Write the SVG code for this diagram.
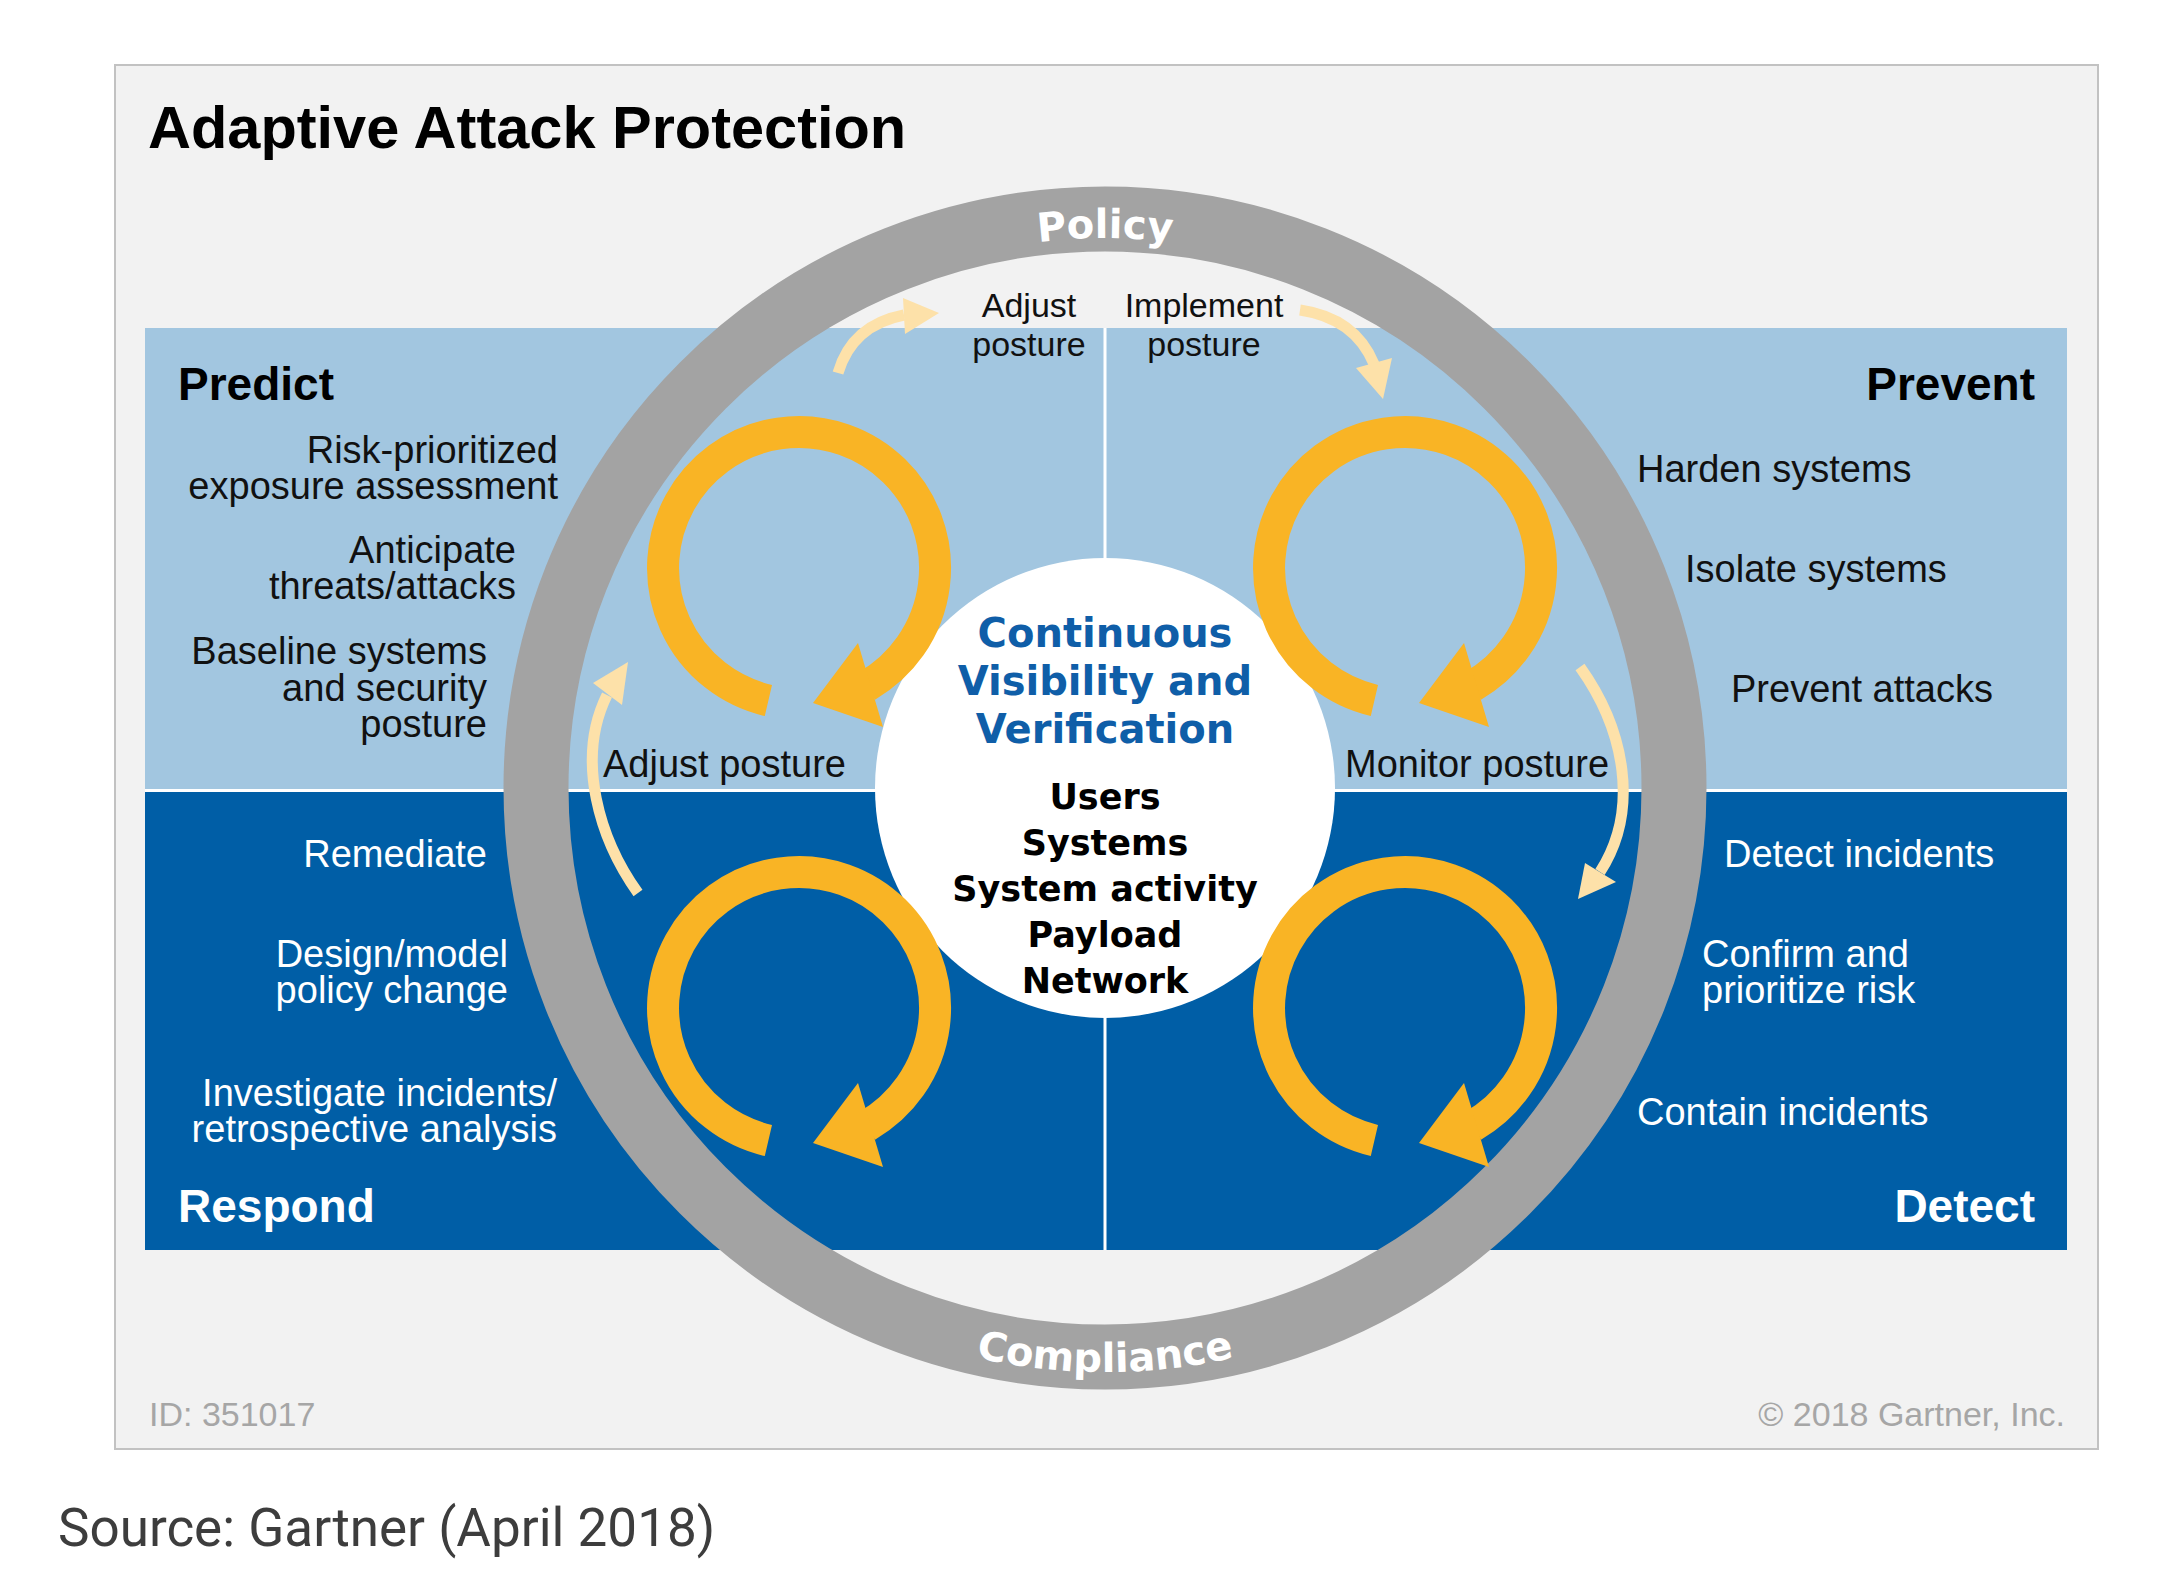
<svg xmlns="http://www.w3.org/2000/svg" xmlns:xlink="http://www.w3.org/1999/xlink" width="2180" height="1572" viewBox="0 0 2180 1572">
<style>
.lbl{font-family:"Liberation Sans",Arial,sans-serif;font-size:38px;fill:#111}
.lblw{font-family:"Liberation Sans",Arial,sans-serif;font-size:38px;fill:#fff}
.top{font-family:"Liberation Sans",Arial,sans-serif;font-size:34px;fill:#111;text-anchor:middle}
.hdr{font-family:"Liberation Sans",Arial,sans-serif;font-size:46px;font-weight:bold}
.ctr{font-family:"DejaVu Sans",Verdana,sans-serif;font-weight:bold;text-anchor:middle}
.ring{font-family:"DejaVu Sans",Verdana,sans-serif;font-weight:bold;font-size:40px;fill:#fff}
.foot{font-family:"Liberation Sans",Arial,sans-serif;font-size:34px;fill:#a6a6a6}
.pale{fill:none;stroke:#fde1a9;stroke-width:11}
.palehead{fill:#fde1a9}
</style>
<defs>
<g id="yellowArrow">
<path d="M-30.6,132.5 A136,136 0 1 1 68,117.8" fill="none" stroke="#f9b425" stroke-width="32"/>
<polygon points="59,75 84,159 14,135" fill="#f9b425"/>
</g>
<path id="policyArc" d="M555,788 A550,550 0 0 1 1655,788"/>
<path id="complianceArc" d="M521,788 A584,584 0 0 0 1689,788"/>
</defs>
<rect width="2180" height="1572" fill="#ffffff"/>
<g id="frame">
<rect x="115" y="65" width="1983" height="1384" fill="#f2f2f2" stroke="#c2c2c2" stroke-width="2"/>
<text x="148" y="148" font-family="Liberation Sans, Arial, sans-serif" font-size="59.5" font-weight="bold" fill="#000">Adaptive Attack Protection</text>
</g>
<g id="bands">
<rect x="145" y="328" width="1922" height="461" fill="#a2c6e0"/>
<rect x="145" y="792" width="1922" height="458" fill="#005ea6"/>
<rect x="145" y="789" width="1922" height="3" fill="#ffffff"/>
<rect x="1103.5" y="328" width="3" height="922" fill="#ffffff"/>
</g>
<g id="ring">
<circle cx="1105" cy="788" r="569" fill="none" stroke="#a3a3a3" stroke-width="65"/>
<text class="ring"><textPath href="#policyArc" startOffset="50%" text-anchor="middle">Policy</textPath></text>
<text class="ring"><textPath href="#complianceArc" startOffset="50%" text-anchor="middle">Compliance</textPath></text>
</g>
<g id="center">
<circle cx="1105" cy="788" r="230" fill="#ffffff"/>
<text class="ctr" font-size="40" fill="#0f5ea8"><tspan x="1105" y="647">Continuous</tspan><tspan x="1105" y="695">Visibility and</tspan><tspan x="1105" y="743">Verification</tspan></text>
<text class="ctr" font-size="35" fill="#000"><tspan x="1105" y="809">Users</tspan><tspan x="1105" y="855">Systems</tspan><tspan x="1105" y="901">System activity</tspan><tspan x="1105" y="947">Payload</tspan><tspan x="1105" y="993">Network</tspan></text>
</g>
<g id="cycles">
<use href="#yellowArrow" transform="translate(799,568)"/>
<use href="#yellowArrow" transform="translate(1405,568)"/>
<use href="#yellowArrow" transform="translate(799,1008)"/>
<use href="#yellowArrow" transform="translate(1405,1008)"/>
</g>
<g id="connectors">
<path class="pale" d="M838,373 Q852,325 904,315"/>
<polygon class="palehead" points="903,298 939,313 905,334"/>
<path class="pale" d="M1300,310 Q1355,318 1374,364"/>
<polygon class="palehead" points="1356,368 1392,358 1383,399"/>
<path class="pale" d="M1580,667 C1625,730 1640,810 1600,872"/>
<polygon class="palehead" points="1585,863 1616,882 1578,899"/>
<path class="pale" d="M638,893 C600,840 575,760 607,695"/>
<polygon class="palehead" points="593,683 622,705 628,662"/>
</g>
<g id="predict">
<text class="hdr" x="178" y="400" fill="#000">Predict</text>
<text class="lbl" text-anchor="end"><tspan x="558" y="463">Risk-prioritized</tspan><tspan x="558" y="499">exposure assessment</tspan></text>
<text class="lbl" text-anchor="end"><tspan x="516" y="563">Anticipate</tspan><tspan x="516" y="599">threats/attacks</tspan></text>
<text class="lbl" text-anchor="end"><tspan x="487" y="664">Baseline systems</tspan><tspan x="487" y="701">and security</tspan><tspan x="487" y="737">posture</tspan></text>
<text class="lbl" x="603" y="777">Adjust posture</text>
</g>
<g id="prevent">
<text class="hdr" x="2035" y="400" fill="#000" text-anchor="end">Prevent</text>
<text class="lbl" x="1637" y="482">Harden systems</text>
<text class="lbl" x="1685" y="582">Isolate systems</text>
<text class="lbl" x="1731" y="702">Prevent attacks</text>
<text class="lbl" x="1345" y="777">Monitor posture</text>
</g>
<g id="respond">
<text class="hdr" x="178" y="1222" fill="#fff">Respond</text>
<text class="lblw" x="487" y="867" text-anchor="end">Remediate</text>
<text class="lblw" text-anchor="end"><tspan x="508" y="967">Design/model</tspan><tspan x="508" y="1003">policy change</tspan></text>
<text class="lblw" text-anchor="end"><tspan x="557" y="1106">Investigate incidents/</tspan><tspan x="557" y="1142">retrospective analysis</tspan></text>
</g>
<g id="detect">
<text class="hdr" x="2035" y="1222" fill="#fff" text-anchor="end">Detect</text>
<text class="lblw" x="1724" y="867">Detect incidents</text>
<text class="lblw"><tspan x="1702" y="967">Confirm and</tspan><tspan x="1702" y="1003">prioritize risk</tspan></text>
<text class="lblw" x="1637" y="1125">Contain incidents</text>
</g>
<g id="policy-labels">
<text class="top"><tspan x="1029" y="317">Adjust</tspan><tspan x="1029" y="356">posture</tspan></text>
<text class="top"><tspan x="1204" y="317">Implement</tspan><tspan x="1204" y="356">posture</tspan></text>
</g>
<g id="footer">
<text class="foot" x="149" y="1426">ID: 351017</text>
<text class="foot" x="2065" y="1426" text-anchor="end">© 2018 Gartner, Inc.</text>
<text x="58" y="1546" font-family="Roboto, Liberation Sans, sans-serif" font-size="53" fill="#3d3d3d">Source: Gartner (April 2018)</text>
</g>
</svg>
